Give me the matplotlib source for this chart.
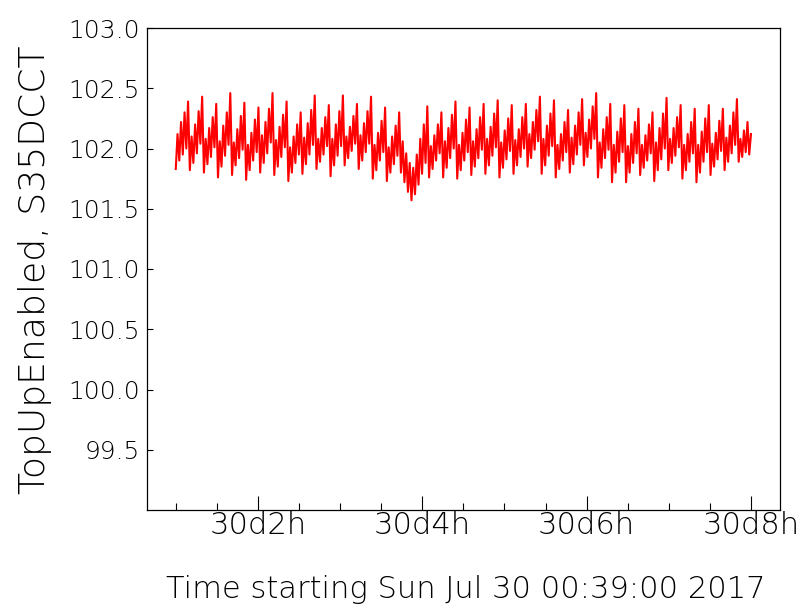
import matplotlib
matplotlib.use("Agg")
import matplotlib.pyplot as plt
import numpy as np
from matplotlib.ticker import FixedLocator, MultipleLocator

# beam current readback, one row per ~10 min top-up cycle (trough, peak, ...)
current_ma = [
    101.83, 102.12, 101.90, 102.22, 101.95, 102.30, 102.00, 102.39,
    101.82, 102.10, 101.88, 102.20, 101.96, 102.31, 102.04, 102.43,
    101.80, 102.08, 101.87, 102.17, 101.93, 102.26, 102.01, 102.37,
    101.76, 102.06, 101.85, 102.19, 101.94, 102.30, 102.03, 102.46,
    101.78, 102.05, 101.86, 102.16, 101.92, 102.27, 101.99, 102.38,
    101.74, 102.03, 101.82, 102.13, 101.90, 102.24, 101.97, 102.34,
    101.80, 102.11, 101.88, 102.22, 101.96, 102.33, 102.05, 102.46,
    101.78, 102.07, 101.85, 102.18, 101.93, 102.28, 102.01, 102.39,
    101.73, 102.01, 101.80, 102.10, 101.88, 102.20, 101.95, 102.30,
    101.79, 102.09, 101.87, 102.21, 101.95, 102.32, 102.03, 102.44,
    101.83, 102.08, 101.89, 102.17, 101.95, 102.26, 102.02, 102.36,
    101.77, 102.08, 101.86, 102.20, 101.94, 102.31, 102.02, 102.44,
    101.86, 102.10, 101.92, 102.18, 101.98, 102.27, 102.04, 102.37,
    101.83, 102.11, 101.90, 102.21, 101.97, 102.31, 102.04, 102.43,
    101.75, 102.03, 101.82, 102.13, 101.90, 102.23, 101.97, 102.34,
    101.73, 102.01, 101.80, 102.10, 101.87, 102.19, 101.94, 102.30,
    101.80, 102.06, 101.72, 101.96, 101.64, 101.88, 101.57, 101.84,
    101.62, 101.95, 101.70, 102.08, 101.79, 102.20, 101.88, 102.35,
    101.76, 102.02, 101.83, 102.11, 101.90, 102.20, 101.96, 102.30,
    101.76, 102.06, 101.84, 102.17, 101.92, 102.28, 102.00, 102.39,
    101.75, 102.03, 101.82, 102.13, 101.90, 102.24, 101.97, 102.34,
    101.78, 102.06, 101.85, 102.16, 101.92, 102.26, 101.99, 102.37,
    101.79, 102.08, 101.86, 102.18, 101.94, 102.29, 102.01, 102.40,
    101.76, 102.05, 101.84, 102.15, 101.91, 102.25, 101.98, 102.36,
    101.79, 102.07, 101.86, 102.16, 101.93, 102.26, 102.00, 102.37,
    101.85, 102.12, 101.92, 102.22, 101.99, 102.32, 102.06, 102.43,
    101.79, 102.08, 101.86, 102.19, 101.94, 102.29, 102.02, 102.40,
    101.76, 102.03, 101.83, 102.12, 101.90, 102.22, 101.97, 102.32,
    101.80, 102.09, 101.87, 102.19, 101.95, 102.30, 102.03, 102.41,
    101.86, 102.13, 101.93, 102.24, 102.00, 102.35, 102.08, 102.46,
    101.76, 102.05, 101.84, 102.16, 101.92, 102.26, 101.99, 102.37,
    101.72, 102.03, 101.80, 102.14, 101.89, 102.25, 101.97, 102.36,
    101.72, 102.02, 101.80, 102.12, 101.88, 102.22, 101.96, 102.33,
    101.78, 102.03, 101.84, 102.11, 101.90, 102.20, 101.96, 102.30,
    101.73, 102.05, 101.82, 102.17, 101.91, 102.29, 102.00, 102.42,
    101.82, 102.08, 101.88, 102.17, 101.94, 102.26, 102.01, 102.36,
    101.75, 102.03, 101.82, 102.12, 101.89, 102.22, 101.96, 102.33,
    101.72, 102.03, 101.80, 102.14, 101.89, 102.25, 101.97, 102.36,
    101.78, 102.04, 101.85, 102.13, 101.91, 102.23, 101.98, 102.33,
    101.82, 102.09, 101.89, 102.19, 101.96, 102.30, 102.03, 102.41,
    101.89, 102.08, 101.93, 102.15, 101.97, 102.22, 101.95, 102.12,
]

# time axis in hours of Jul 30 (start of window 00:39)
t_window = (0.65, 8.353)
t_first, t_last = 1.0, 8.0
hour_ticks = [2, 4, 6, 8]
hour_labels = ["30d2h", "30d4h", "30d6h", "30d8h"]
y_ticks = [99.5, 100.0, 100.5, 101.0, 101.5, 102.0, 102.5, 103.0]
y_limits = (99.0, 103.0)

FONT = "DejaVu Sans"

fig = plt.figure(figsize=(8.02, 6.06), dpi=100)
ax = fig.add_axes([147 / 802, 1 - 510 / 606, 633 / 802, 482 / 606])

t = np.linspace(t_first, t_last, len(current_ma))
ax.plot(t, current_ma, color="red", linewidth=1.5)

ax.set_xlim(*t_window)
ax.set_ylim(*y_limits)

ax.xaxis.set_major_locator(FixedLocator(hour_ticks))
ax.xaxis.set_minor_locator(MultipleLocator(0.5))
ax.set_xticklabels(hour_labels)
ax.yaxis.set_major_locator(FixedLocator(y_ticks))
ax.set_yticklabels([f"{v:.1f}" for v in y_ticks])

ax.tick_params(axis="x", which="major", direction="in", length=10, width=0.8, pad=1,
               labelsize=22, top=False)
ax.tick_params(axis="x", which="minor", direction="in", length=5, width=0.8, top=False)
ax.tick_params(axis="y", which="major", direction="in", length=4, width=0.8, pad=5,
               labelsize=18, right=False)
for lab in ax.get_xticklabels() + ax.get_yticklabels():
    lab.set_fontfamily(FONT)
    lab.set_fontweight("light")

for sp in ax.spines.values():
    sp.set_linewidth(0.9)
    sp.set_color("black")

fig.text(466 / 802, 1 - 590 / 606, "Time starting Sun Jul 30 00:39:00 2017",
         ha="center", va="center", fontsize=22, family=FONT, weight="light")
fig.text(35 / 802, 1 - 270 / 606, "TopUpEnabled, S35DCCT", rotation=90,
         ha="center", va="center", fontsize=26, family=FONT, weight="light")

fig.savefig("out.png", dpi=100)
